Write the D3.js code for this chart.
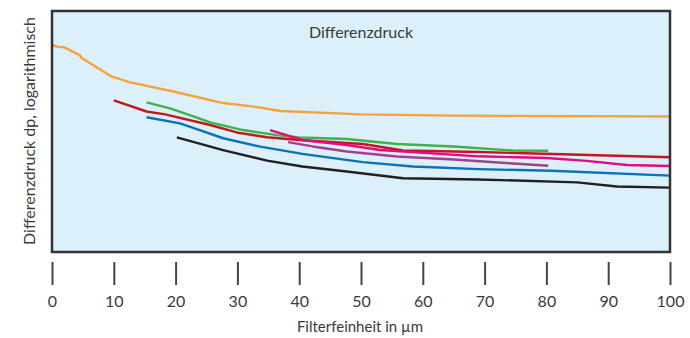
<!DOCTYPE html>
<html>
<head>
<meta charset="utf-8">
<script src="https://cdn.jsdelivr.net/npm/d3@7"></script>
<style>
  body { margin: 0; background: #fff; }
  text { font-family: Lato, "Open Sans", sans-serif; fill: #3a3a3a; }
</style>
</head>
<body>
<script>
//x values in µm, y values relative log dp (0 = bottom of frame, 100 = top)
var orange = [[0,85.9],[1,85.1],[2,84.9],[4.5,81.7],[4.8,80.5],[9.5,73.0],[12.5,70.5],[20,66.4],[27.7,61.8],[33,60.2],[37,58.5],[50,57.1],[65,56.6],[100,56.2]];
var red    = [[10,62.9],[15.3,58.3],[18.3,57.1],[25.6,52.7],[29.9,49.6],[34.8,47.6],[40,46.5],[50.3,44.8],[56.8,42.1],[69,41.5],[100,39.3]];
var green  = [[15.3,62.1],[19.1,59.6],[22.3,56.8],[25.6,53.8],[30.9,50.6],[36.4,48.5],[40,47.5],[47.7,46.9],[55.8,44.8],[65,43.8],[74.6,42.1],[80.3,42.0]];
var blue   = [[15.3,55.9],[20.7,53.4],[23.9,50.6],[27.7,47.2],[33.7,43.7],[40.5,40.7],[50.3,37.3],[58.4,35.5],[69,34.4],[80.8,33.7],[100,31.7]];
var black  = [[20.2,47.6],[27.7,42.3],[34.8,37.9],[40.5,35.5],[47.7,33.4],[56.8,30.6],[69,30.1],[85,28.9],[91.4,27.2],[100,26.7]];
var pink   = [[35.3,50.6],[40.5,46.5],[47.7,44.4],[53.1,42.3],[69,39.7],[80,39.0],[86.5,37.8],[93,36.1],[100,35.7]];
var purple = [[38.2,45.6],[42.2,43.8],[47.7,41.7],[55.8,39.6],[65,38.4],[74,36.8],[80.3,35.8]];

var xTicks = [0, 10, 20, 30, 40, 50, 60, 70, 80, 90, 100];

var width = 690,
    height = 338;

var svg = d3.select("body")
    .append("svg")
    .attr("width", width)
    .attr("height", height);

//plot frame
var frameLeft = 52, frameRight = 670, frameTop = 11, frameBottom = 252;

var x = d3.scaleLinear().domain([0, 100]).range([frameLeft, frameRight]);
var y = d3.scaleLinear().domain([0, 100]).range([frameBottom, frameTop]);

svg.append("rect")
    .attr("x", frameLeft)
    .attr("y", frameTop)
    .attr("width", frameRight - frameLeft)
    .attr("height", frameBottom - frameTop)
    .attr("fill", "#dcf0fb");

var line = d3.line()
    .x(function(d){ return x(d[0]); })
    .y(function(d){ return y(d[1]); });

var series = [
    {data: orange, color: "#f7a13b"},
    {data: black,  color: "#231f20"},
    {data: blue,   color: "#0b71ba"},
    {data: purple, color: "#a3408b"},
    {data: red,    color: "#c3161d"},
    {data: green,  color: "#3bb54a"},
    {data: pink,   color: "#e8087f"}
];

svg.selectAll(".curve")
    .data(series)
    .enter()
    .append("path")
    .attr("class", "curve")
    .attr("d", function(d){ return line(d.data); })
    .attr("fill", "none")
    .attr("stroke", function(d){ return d.color; })
    .attr("stroke-width", 2.4)
    .attr("stroke-linejoin", "round");

//frame border
svg.append("rect")
    .attr("x", frameLeft)
    .attr("y", frameTop)
    .attr("width", frameRight - frameLeft)
    .attr("height", frameBottom - frameTop)
    .attr("fill", "none")
    .attr("stroke", "#333")
    .attr("stroke-width", 2.5);

//x axis: separate tick marks below the frame
var xAxis = d3.axisBottom(x)
    .tickValues(xTicks)
    .tickSize(23)
    .tickPadding(11)
    .tickFormat(d3.format("d"));

var gx = svg.append("g")
    .attr("transform", "translate(0,262)")
    .call(xAxis);
gx.select(".domain").remove();
gx.selectAll(".tick line").attr("stroke", "#444").attr("stroke-width", 2);
gx.selectAll(".tick text")
    .attr("font-size", 16)
    .attr("font-family", "Lato, 'Open Sans', sans-serif")
    .attr("fill", "#3a3a3a");

svg.append("text")
    .attr("x", 360)
    .attr("y", 332)
    .attr("text-anchor", "middle")
    .attr("font-size", 15)
    .text("Filterfeinheit in µm");

svg.append("text")
    .attr("transform", "translate(35,131) rotate(-90)")
    .attr("text-anchor", "middle")
    .attr("font-size", 16)
    .text("Differenzdruck dp, logarithmisch");

svg.append("text")
    .attr("x", 361)
    .attr("y", 38)
    .attr("text-anchor", "middle")
    .attr("font-size", 16)
    .text("Differenzdruck");
</script>
</body>
</html>
